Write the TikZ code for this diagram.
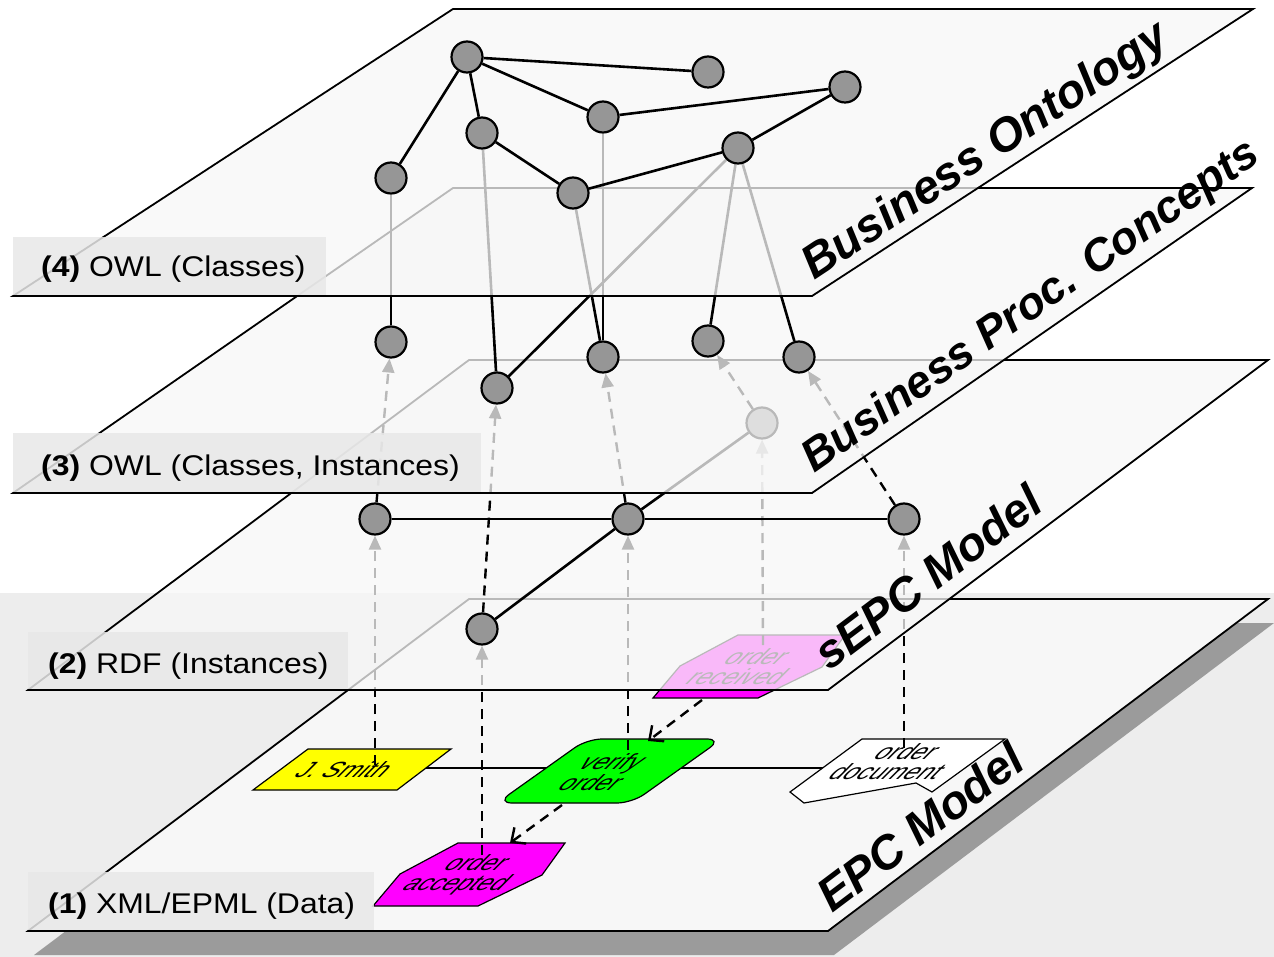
\documentclass[tikz,border=0pt]{standalone}
\usepackage{fontspec}
\setmainfont{Liberation Sans}
\usetikzlibrary{arrows.meta}
\definecolor{planefill}{RGB}{247,247,247}
\definecolor{nodegray}{RGB}{150,150,150}
\definecolor{boxgray}{RGB}{232,232,232}
\definecolor{texgray}{RGB}{237,237,237}
\definecolor{shadowgray}{RGB}{155,155,155}
\definecolor{epcyellow}{RGB}{255,255,0}
\definecolor{epcgreen}{RGB}{0,255,0}
\definecolor{epcmagenta}{RGB}{255,0,255}
\pgfdeclarelayer{L0}
\pgfdeclarelayer{L1}
\pgfdeclarelayer{A1}
\pgfdeclarelayer{L2}
\pgfdeclarelayer{A2}
\pgfdeclarelayer{L3}
\pgfdeclarelayer{A3}
\pgfdeclarelayer{L4}
\pgfsetlayers{L0,L1,A1,L2,A2,L3,A3,L4,main}
\tikzset{
  plane/.style={fill=planefill, fill opacity=0.75, draw=black, line width=1.8pt, line join=miter},
  onode/.style={circle, draw=black, line width=2.2pt, fill=nodegray, minimum size=31pt, inner sep=0pt},
  edge/.style={draw=black, line width=2.6pt},
  upline/.style={draw=black, line width=2.4pt, dash pattern=on 10pt off 7pt, -{Triangle[length=14pt,width=12pt]}},
  flow/.style={draw=black, line width=2.4pt, dash pattern=on 10pt off 7pt, -{Straight Barb[length=11pt,width=20pt]}},
  hline/.style={draw=black, line width=1.5pt},
  lbox/.style={fill=boxgray, fill opacity=0.85},
  ltext/.style={anchor=base west, inner sep=0pt, font=\fontsize{28.5}{34}\selectfont, xscale=1.12},
  bigtext/.style={anchor=base west, inner sep=0pt, font=\fontsize{47}{56}\selectfont\bfseries\itshape},
  epctext/.style={inner sep=0pt, align=center, font=\fontsize{22}{20}\selectfont, xslant=1.0, xscale=1.12},
  epcshape/.style={draw=black, line width=1.2pt},
}
\begin{document}
\begin{tikzpicture}[x=1pt,y=-1pt]
\useasboundingbox (0,0) rectangle (1274,957);

\begin{pgfonlayer}{L0}
\fill[white] (0,0) rectangle (1274,957);
\fill[texgray] (0,593) rectangle (1274,957);
\fill[shadowgray] (34,955) -- (834,955) -- (1274,623) -- (475,623) -- cycle;
\end{pgfonlayer}

% ---------- plane 1 : EPC model ----------
\begin{pgfonlayer}{L1}
\draw[plane, fill opacity=1] (28,931) -- (828,931) -- (1268,599) -- (469,599) -- cycle;
\coordinate (js-c) at (352,768);
\coordinate (vo-c) at (610,768);
\coordinate (od-c) at (897,768);
\draw[hline] (js-c) -- (vo-c) -- (od-c);
\draw[epcshape, fill=epcyellow] (253,790) -- (308,749) -- (451,749) -- (397,790) -- cycle;
\node[epctext] (js) at (345,770) {J. Smith};
\draw[epcshape, fill=epcgreen, rounded corners=15pt] (560,803) -- (497,803) -- (587,739) -- (722,739) -- (632,803) -- cycle;
\node[epctext] (vo) at (603,772) {verify\\order};
\draw[epcshape, fill=epcmagenta] (458,843) -- (565,843) -- (542,875) -- (478,906) -- (373,906) -- (400,874) -- cycle;
\node[epctext] (oa) at (466,875) {order\\accepted};
\draw[epcshape, fill=epcmagenta] (738,635) -- (845,635) -- (822,667) -- (758,698) -- (653,698) -- (680,666) -- cycle;
\node[epctext] (or) at (748,667) {order\\received};
\draw[epcshape, fill=white] (862,739) -- (1005,739) -- (932,792) -- (916,783) -- (804,803) -- (790,792) -- cycle;
\node[epctext] (od) at (898,762) {order\\document};
\coordinate (or-out) at (702,700);
\coordinate (vo-in) at (648,741);
\coordinate (vo-out) at (562,805);
\coordinate (oa-in) at (510,843);
\draw[flow] (or-out) -- (vo-in);
\draw[flow] (vo-out) -- (oa-in);
\fill[lbox] (28,872) rectangle (374,930);
\node[ltext] (l1) at (48,913) {\textbf{(1)} XML/EPML (Data)};
\node[bigtext, rotate=37] (t1) at (832,914) {EPC Model};
\end{pgfonlayer}

% ---------- plane 2 : sEPC model ----------
\begin{pgfonlayer}{L2}
\draw[plane] (28,690) -- (828,690) -- (1268,360) -- (469,360) -- cycle;
\node[onode] (A) at (375,519) {};
\node[onode] (B) at (628,519) {};
\node[onode] (C) at (904,519) {};
\node[onode] (D) at (762,423) {};
\node[onode] (E) at (482,629) {};
\draw[edge] (A) -- (B);
\draw[edge] (B) -- (C);
\draw[edge] (E) -- (B);
\draw[edge] (B) -- (D);
\fill[lbox] (28,632) rectangle (348,689);
\node[ltext] (l2) at (48,673) {\textbf{(2)} RDF (Instances)};
\node[bigtext, rotate=37] (t2) at (829,672) {sEPC Model};
\end{pgfonlayer}

\begin{pgfonlayer}{A1}
\coordinate (js-up) at (375,765);
\coordinate (vo-up) at (628,750);
\coordinate (oa-up) at (482,855);
\coordinate (od-up) at (904,748);
\coordinate (or-up) at (763,645);
\draw[upline] (js-up) -- (A);
\draw[upline] (vo-up) -- (B);
\draw[upline] (oa-up) -- (E);
\draw[upline] (od-up) -- (C);
\draw[upline] (or-up) -- (D);
\end{pgfonlayer}

% ---------- plane 3 : business process concepts ----------
\begin{pgfonlayer}{L3}
\draw[plane] (13,493) -- (812,493) -- (1252,188) -- (453,188) -- cycle;
\node[onode] (Q1) at (391,342) {};
\node[onode] (Q2) at (497,388) {};
\node[onode] (Q3) at (603,357) {};
\node[onode] (Q4) at (708,341) {};
\node[onode] (Q5) at (799,357) {};
\fill[lbox] (13,433) rectangle (481,492);
\node[ltext] (l3) at (41,475) {\textbf{(3)} OWL (Classes, Instances)};
\node[bigtext, rotate=35, font=\fontsize{45}{54}\selectfont\bfseries\itshape] (t3) at (814,474) {Business Proc. Concepts};
\end{pgfonlayer}

\begin{pgfonlayer}{A2}
\draw[upline] (A) -- (Q1);
\draw[upline] (E) -- (Q2);
\draw[upline] (B) -- (Q3);
\draw[upline] (D) -- (Q4);
\draw[upline] (C) -- (Q5);
\end{pgfonlayer}

% ---------- plane 4 : business ontology ----------
\begin{pgfonlayer}{L4}
\draw[plane] (13,296) -- (812,296) -- (1253,9) -- (453,9) -- cycle;
\node[onode] (N1) at (467,57) {};
\node[onode] (N2) at (708,72) {};
\node[onode] (N3) at (845,87) {};
\node[onode] (N4) at (603,117) {};
\node[onode] (N5) at (482,133) {};
\node[onode] (N6) at (738,148) {};
\node[onode] (N7) at (391,178) {};
\node[onode] (N8) at (573,193) {};
\draw[edge] (N1) -- (N2);
\draw[edge] (N1) -- (N4);
\draw[edge] (N1) -- (N7);
\draw[edge] (N1) -- (N5);
\draw[edge] (N4) -- (N3);
\draw[edge] (N3) -- (N6);
\draw[edge] (N6) -- (N8);
\draw[edge] (N5) -- (N8);
\fill[lbox] (13,237) rectangle (326,295);
\node[ltext] (l4) at (41,277) {\textbf{(4)} OWL (Classes)};
\node[bigtext, rotate=33.5] (t4) at (814,281) {Business Ontology};
\end{pgfonlayer}

\begin{pgfonlayer}{A3}
\draw[edge] (Q1) -- (N7);
\draw[edge] (Q2) -- (N5);
\draw[edge] (Q2) -- (N6);
\draw[edge] (Q3) -- (N4);
\draw[edge] (Q3) -- (N8);
\draw[edge] (Q4) -- (N6);
\draw[edge] (Q5) -- (N6);
\end{pgfonlayer}
\end{tikzpicture}
\end{document}
